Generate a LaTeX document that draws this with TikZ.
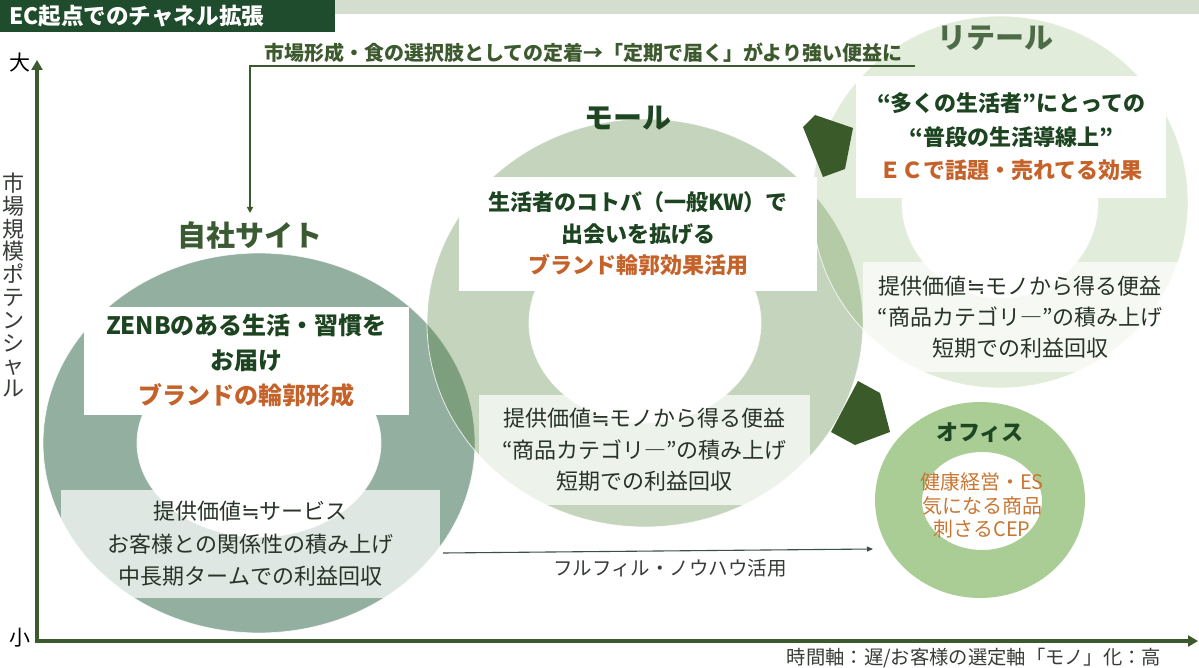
\documentclass[tikz,border=0pt]{standalone}
\usepackage{fontspec}
\setmainfont{Noto Sans CJK JP}
\newfontfamily\symbolfont{DejaVu Sans}
\usepackage{xcolor}
\usetikzlibrary{arrows.meta, calc, positioning}
\definecolor{titlegreen}{RGB}{31,76,44}
\definecolor{stripgreen}{RGB}{213,221,207}
\definecolor{axisgreen}{RGB}{61,90,46}
\definecolor{headgreen}{RGB}{29,68,33}
\definecolor{brandorange}{RGB}{197,98,42}
\definecolor{officeorange}{RGB}{200,118,50}
\definecolor{bodytext}{RGB}{40,52,40}
\definecolor{labelgray}{RGB}{55,60,55}
\definecolor{jishaground}{RGB}{146,175,160}
\definecolor{mallgreen}{RGB}{85,129,59}
\definecolor{retailgreen}{RGB}{123,168,86}
\definecolor{officegreen}{RGB}{170,205,150}
\definecolor{pentgreen}{RGB}{58,90,42}
\definecolor{fulfilline}{RGB}{60,80,70}
\definecolor{titlejisha}{RGB}{58,90,50}
\definecolor{titlemall}{RGB}{30,70,35}
\definecolor{titleretail}{RGB}{77,107,70}
\newcommand{\nearlyeq}{{\symbolfont ≒}}

\begin{document}
\begin{tikzpicture}[x=1pt, y=-1pt,
    ring/.style={draw=white, draw opacity=0.8, line width=0.8pt, even odd rule},
    topbox/.style={fill=white, inner sep=0pt, align=center, text=headgreen, font=\bfseries\fontsize{22}{31.5}\selectfont},
    lowbox/.style={fill=white, fill opacity=0.7, text opacity=1, inner sep=0pt, align=center, text=bodytext, font=\fontsize{22}{31.5}\selectfont},
    ringtitle/.style={inner sep=0pt, font=\bfseries\fontsize{29}{29}\selectfont},
    axis/.style={draw=axisgreen, line width=4pt, {Triangle[length=10pt, width=11pt]}-{Triangle[length=10pt, width=11pt]}}
]
    \useasboundingbox (0,0) rectangle (1199,668);

    % header
    \fill[titlegreen] (0,0) rectangle (335,32);
    \fill[stripgreen] (335,0) rectangle (1199,14);
    \node[anchor=west, inner sep=0pt, text=white, font=\bfseries\fontsize{22.6}{22.6}\selectfont] (title) at (9,16) {EC起点でのチャネル拡張};

    % rings
    \fill[jishaground, ring] (259,443) ellipse [x radius=216pt, y radius=190pt] (259,443) ellipse [x radius=122pt, y radius=94pt];
    \fill[mallgreen, fill opacity=0.34, ring] (645,323) ellipse [x radius=218pt, y radius=204pt] (645,323) ellipse [x radius=116pt, y radius=100pt];
    \fill[retailgreen, fill opacity=0.22, ring] (1000,202) ellipse [x radius=188pt, y radius=186pt] (1000,202) ellipse [x radius=98pt, y radius=96pt];
    \fill[officegreen, even odd rule] (980,500) ellipse [x radius=105pt, y radius=98pt] (982,501) ellipse [x radius=60pt, y radius=49pt];

    \fill[pentgreen] (803,127) -- (815,115) -- (853,128) -- (845,169) -- (823,177) -- cycle;
    \fill[pentgreen] (858,381) -- (880,393) -- (890,432) -- (855,445) -- (831,432) -- cycle;

    % titles
    \node[ringtitle, text=titlejisha] (jishatitle) at (250,235) {自社サイト};
    \node[ringtitle, text=titlemall] (malltitle) at (628,118) {モール};
    \node[ringtitle, text=titleretail] (retailtitle) at (995,38) {リテール};
    \node[inner sep=0pt, text=titlemall, font=\bfseries\fontsize{22}{22}\selectfont] (officetitle) at (980,433) {オフィス};

    % boxes
    \node[topbox, minimum width=325pt, minimum height=108pt, font=\bfseries\fontsize{24}{35}\selectfont] (jishatop) at (246.5,361)
        {ZENBのある生活・習慣を\\お届け\\\textcolor{brandorange}{ブランドの輪郭形成}};
    \node[lowbox, minimum width=379pt, minimum height=108pt, font=\fontsize{22}{32.5}\selectfont] (jishalow) at (250.5,544)
        {提供価値\nearlyeq サービス\\お客様との関係性の積み上げ\\中長期タームでの利益回収};
    \node[topbox, minimum width=358pt, minimum height=114pt] (malltop) at (638,234)
        {生活者のコトバ（一般KW）で\\出会いを拡げる\\\textcolor{brandorange}{ブランド輪郭効果活用}};
    \node[lowbox, minimum width=331pt, minimum height=110pt] (malllow) at (644.5,450)
        {提供価値\nearlyeq モノから得る便益\\“商品カテゴリ―”の積み上げ\\短期での利益回収};
    \node[topbox, minimum width=310pt, minimum height=122pt, font=\bfseries\fontsize{22}{33.5}\selectfont] (retailtop) at (1011,137)
        {“多くの生活者”にとっての\\“普段の生活導線上”\\\textcolor{brandorange}{ＥＣで話題・売れてる効果}};
    \node[lowbox, minimum width=314pt, minimum height=110pt, font=\fontsize{22}{31}\selectfont] (retaillow) at (1020,317)
        {提供価値\nearlyeq モノから得る便益\\“商品カテゴリ―”の積み上げ\\短期での利益回収};
    \node[inner sep=0pt, align=center, text=officeorange, font=\fontsize{20}{23.5}\selectfont] (officetext) at (982,505.5)
        {健康経営・ES\\気になる商品\\刺さるCEP};

    % axes
    \coordinate (origin) at (37,641);
    \coordinate (ytop) at (37,60);
    \coordinate (xend) at (1198,641);
    \draw[axis] (ytop) -- (origin) -- (xend);
    \node[inner sep=0pt, font=\fontsize{21}{21}\selectfont] (big) at (20,63) {大};
    \node[inner sep=0pt, font=\fontsize{21}{21}\selectfont] (small) at (20,638) {小};
    \node[inner sep=0pt, align=center, text=labelgray, font=\fontsize{22}{22.8}\selectfont] (ylabel) at (13,285)
        {市\\場\\規\\模\\ポ\\テ\\ン\\シ\\ャ\\ル};
    \node[inner sep=0pt, text=labelgray, font=\fontsize{19.3}{19.3}\selectfont] (xlabel) at (974,658) {時間軸：遅/お客様の選定軸「モノ」化：高};

    % flows
    \node[inner sep=0pt, text=axisgreen, font=\bfseries\fontsize{20}{20}\selectfont] (teichaku) at (583,53)
        {市場形成・食の選択肢としての定着→「定期で届く」がより強い便益に};
    \coordinate (ulend) at (915,66);
    \coordinate (ulstart) at (250,66);
    \coordinate (jishain) at (250,213);
    \draw[axisgreen, line width=1.8pt, -{Triangle[length=6pt, width=6pt]}] (ulend) -- (ulstart) -- (jishain);

    \coordinate (ffstart) at (443,553);
    \coordinate (ffend) at (873,549);
    \draw[fulfilline, line width=1.1pt, -{Triangle[length=6pt, width=5pt]}] (ffstart) -- (ffend);
    \node[inner sep=0pt, text=labelgray, font=\fontsize{19.5}{19.5}\selectfont] (fulfil) at (670,568) {フルフィル・ノウハウ活用};
\end{tikzpicture}
\end{document}
